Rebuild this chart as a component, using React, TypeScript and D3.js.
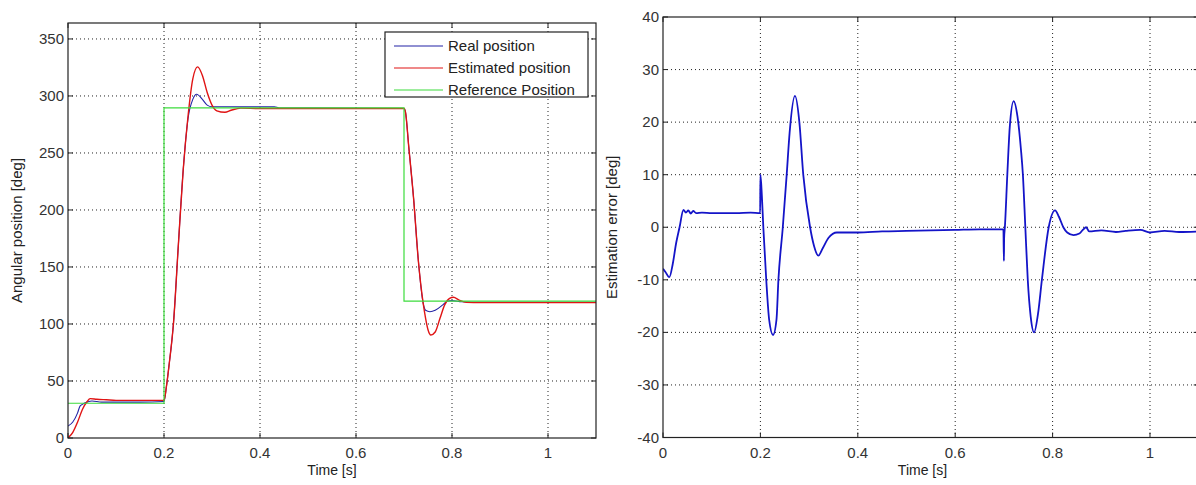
import React from "react";
import * as d3 from "d3";

// ---------- Data ----------
const leftXTicks = [0, 0.2, 0.4, 0.6, 0.8, 1];
const leftYTicks = [0, 50, 100, 150, 200, 250, 300, 350];
const rightXTicks = [0, 0.2, 0.4, 0.6, 0.8, 1];
const rightYTicks = [-40, -30, -20, -10, 0, 10, 20, 30, 40];

const realT = [0, 0.01, 0.02, 0.025, 0.03, 0.04, 0.05, 0.07, 0.1, 0.15, 0.2, 0.205, 0.21, 0.22, 0.23, 0.24, 0.25, 0.26, 0.268, 0.28, 0.29, 0.3, 0.35, 0.43, 0.44, 0.5, 0.7, 0.703, 0.71, 0.72, 0.73, 0.74, 0.745, 0.754, 0.765, 0.78, 0.79, 0.8, 0.82, 0.86, 1.1];
const realV = [10.5, 14, 22, 28, 29.5, 31.5, 32.5, 31.5, 31.5, 31.5, 32, 45, 62, 102, 170, 235, 280, 297, 301.5, 297, 292, 290.6, 290.6, 290.6, 289.5, 289.3, 289, 286, 255, 210, 155, 118, 112, 110.8, 112, 116.5, 120, 120.5, 119.5, 119, 119];

const estT = [0, 0.01, 0.02, 0.03, 0.04, 0.046, 0.06, 0.08, 0.1, 0.15, 0.2, 0.205, 0.21, 0.22, 0.23, 0.24, 0.25, 0.26, 0.27, 0.28, 0.29, 0.3, 0.31, 0.327, 0.34, 0.36, 0.4, 0.5, 0.6, 0.7, 0.703, 0.71, 0.72, 0.73, 0.74, 0.745, 0.75, 0.756, 0.765, 0.775, 0.785, 0.795, 0.803, 0.815, 0.83, 0.86, 1.1];
const estV = [0, 5, 14, 25, 32, 34.5, 34, 33.5, 33, 33, 33, 45, 62, 102, 170, 235, 282, 315, 325.5, 318, 303, 292, 287, 285.7, 287.5, 289.3, 289, 289, 289, 289, 286, 255, 210, 155, 118, 105, 95, 90.4, 93, 105, 117, 122.5, 123.4, 121, 119, 118.7, 118.7];

const refT = [0, 0.2, 0.2, 0.7, 0.7, 1.1];
const refV = [30.5, 30.5, 289.5, 289.5, 120, 120];

const errT = [0, 0.005, 0.013, 0.02, 0.027, 0.034, 0.042, 0.047, 0.052, 0.057, 0.062, 0.068, 0.08, 0.1, 0.12, 0.15, 0.18, 0.1995,
  0.2, 0.203, 0.206, 0.212, 0.218, 0.226, 0.233, 0.237, 0.246, 0.254, 0.26, 0.271, 0.28, 0.288, 0.302, 0.31, 0.319, 0.328, 0.34, 0.357,
  0.4, 0.45, 0.5, 0.55, 0.6, 0.65, 0.699,
  0.7, 0.7005, 0.702, 0.707, 0.712, 0.72, 0.728, 0.735, 0.739, 0.744, 0.749, 0.755, 0.762, 0.77, 0.778, 0.792, 0.805, 0.813, 0.822, 0.83, 0.843, 0.855, 0.862, 0.869, 0.875, 0.9, 0.93, 0.95, 0.98, 1.0, 1.03, 1.06, 1.1];
const errV = [-7.9, -8.5, -9.5, -7, -3, 0, 3.3, 2.8, 3.2, 2.6, 3.1, 2.7, 2.8, 2.7, 2.7, 2.7, 2.8, 2.7,
  10, 6, 0, -10, -17.6, -20.5, -17.6, -10, 0, 10, 18, 25, 20, 10, 0, -3.5, -5.4, -4, -2, -1.0,
  -1.0, -0.8, -0.7, -0.6, -0.5, -0.4, -0.4,
  -6.4, -2, 0, 10, 19, 24, 21, 14.8, 10, 0, -10, -17, -20, -16.5, -10, 0, 3.2, 2, 0, -1, -1.5, -1.2, -0.5, 0, -0.8, -0.6, -0.9, -0.7, -0.5, -1, -0.7, -0.9, -0.8];

const legendLabels = ["Real position", "Estimated position", "Reference Position"];
const seriesColors = ["#2323a6", "#e01414", "#3cdc3c"];

const FONT = "'Liberation Sans', Arial, Helvetica, sans-serif";

function Panel(props: {
  x0: number; x1: number; y0: number; y1: number;
  xDomain: [number, number]; yDomain: [number, number];
  xTicks: number[]; yTicks: number[];
  yLabel: string; clipId: string; children: (sx: any, sy: any) => React.ReactNode;
  clipRight: number;
}) {
  const { x0, x1, y0, y1, xDomain, yDomain, xTicks, yTicks, yLabel, clipId, children } = props;
  const sx = d3.scaleLinear().domain(xDomain).range([x0, x1]);
  const sy = d3.scaleLinear().domain(yDomain).range([y1, y0]);
  const tickLen = 5;
  const fmt = (v: number) => String(v);
  return (
    <g>
      <defs>
        <clipPath id={clipId}>
          <rect x={x0} y={y0} width={x1 - x0} height={y1 - y0} />
        </clipPath>
      </defs>
      <rect x={x0} y={y0} width={x1 - x0} height={y1 - y0} fill="#fff" />
      {xTicks.filter((t) => t !== xDomain[0] && t !== xDomain[1]).map((t) => (
        <line key={"gx" + t} x1={sx(t)} x2={sx(t)} y1={y0} y2={y1} stroke="#222" strokeWidth={1} strokeDasharray="1,3" />
      ))}
      {yTicks.filter((t) => t !== yDomain[0] && t !== yDomain[1]).map((t) => (
        <line key={"gy" + t} x1={x0} x2={x1} y1={sy(t)} y2={sy(t)} stroke="#222" strokeWidth={1} strokeDasharray="1,3" />
      ))}
      <g clipPath={`url(#${clipId})`}>{children(sx, sy)}</g>
      {xTicks.map((t) => (
        <g key={"tx" + t}>
          <line x1={sx(t)} x2={sx(t)} y1={y1} y2={y1 - tickLen} stroke="#222" />
          <line x1={sx(t)} x2={sx(t)} y1={y0} y2={y0 + tickLen} stroke="#222" />
          <text x={sx(t)} y={y1 + 20} textAnchor="middle" fontSize={15} fill="#333" fontFamily={FONT}>{fmt(t)}</text>
        </g>
      ))}
      {yTicks.map((t) => (
        <g key={"ty" + t}>
          <line x1={x0} x2={x0 + tickLen} y1={sy(t)} y2={sy(t)} stroke="#222" />
          <line x1={x1} x2={x1 - tickLen} y1={sy(t)} y2={sy(t)} stroke="#222" />
          <text x={x0 - 4} y={sy(t) + 5} textAnchor="end" fontSize={15} fill="#333" fontFamily={FONT}>{fmt(t)}</text>
        </g>
      ))}
      <rect x={x0} y={y0} width={x1 - x0} height={y1 - y0} fill="none" stroke="#222" strokeWidth={1.2} />
      <text x={(x0 + Math.min(x1, props.clipRight)) / 2} y={y1 + 37} textAnchor="middle" fontSize={14} fill="#222" fontFamily={FONT}>Time [s]</text>
      <text transform={`translate(${x0 - 46},${(y0 + y1) / 2}) rotate(-90)`} textAnchor="middle" fontSize={15} fill="#222" fontFamily={FONT}>{yLabel}</text>
    </g>
  );
}

export default function App() {
  const line = (sx: any, sy: any, smooth = false) => {
    const l = d3.line<[number, number]>().x((d) => sx(d[0])).y((d) => sy(d[1]));
    return smooth ? l.curve(d3.curveMonotoneX) : l;
  };
  const zip = (a: number[], b: number[]) => a.map((v, i) => [v, b[i]] as [number, number]);

  return (
    <svg width={1196} height={485} style={{ position: "absolute", left: 0, top: 0, background: "#fff" }}>
      <Panel x0={68} x1={596} y0={23} y1={438} xDomain={[0, 1.1]} yDomain={[0, 364]}
        xTicks={leftXTicks} yTicks={leftYTicks} yLabel="Angular position [deg]" clipId="c1" clipRight={596}>
        {(sx, sy) => (
          <g fill="none">
            <path d={line(sx, sy, true)(zip(realT, realV)) || ""} stroke={seriesColors[0]} strokeWidth={1.1} />
            <path d={line(sx, sy, true)(zip(estT, estV)) || ""} stroke={seriesColors[1]} strokeWidth={1.4} />
            <path d={line(sx, sy)(zip(refT, refV)) || ""} stroke={seriesColors[2]} strokeWidth={1.2} />
          </g>
        )}
      </Panel>
      <g>
        <rect x={385} y={32} width={203} height={65} fill="#fff" stroke="#222" strokeWidth={1.2} />
        {legendLabels.map((l, i) => (
          <g key={l}>
            <line x1={394} x2={443} y1={46 + i * 22} y2={46 + i * 22} stroke={seriesColors[i]} strokeWidth={1.2} />
            <text x={448} y={51 + i * 22} fontSize={15} fill="#222" fontFamily={FONT}>{l}</text>
          </g>
        ))}
      </g>
      <Panel x0={663} x1={1198.7} y0={17} y1={437.5} xDomain={[0, 1.1]} yDomain={[-40, 40]}
        xTicks={rightXTicks} yTicks={rightYTicks} yLabel="Estimation error [deg]" clipId="c2" clipRight={1182}>
        {(sx, sy) => (
          <path d={line(sx, sy, true)(zip(errT, errV)) || ""} fill="none" stroke="#1414c8" strokeWidth={1.8} />
        )}
      </Panel>
    </svg>
  );
}
